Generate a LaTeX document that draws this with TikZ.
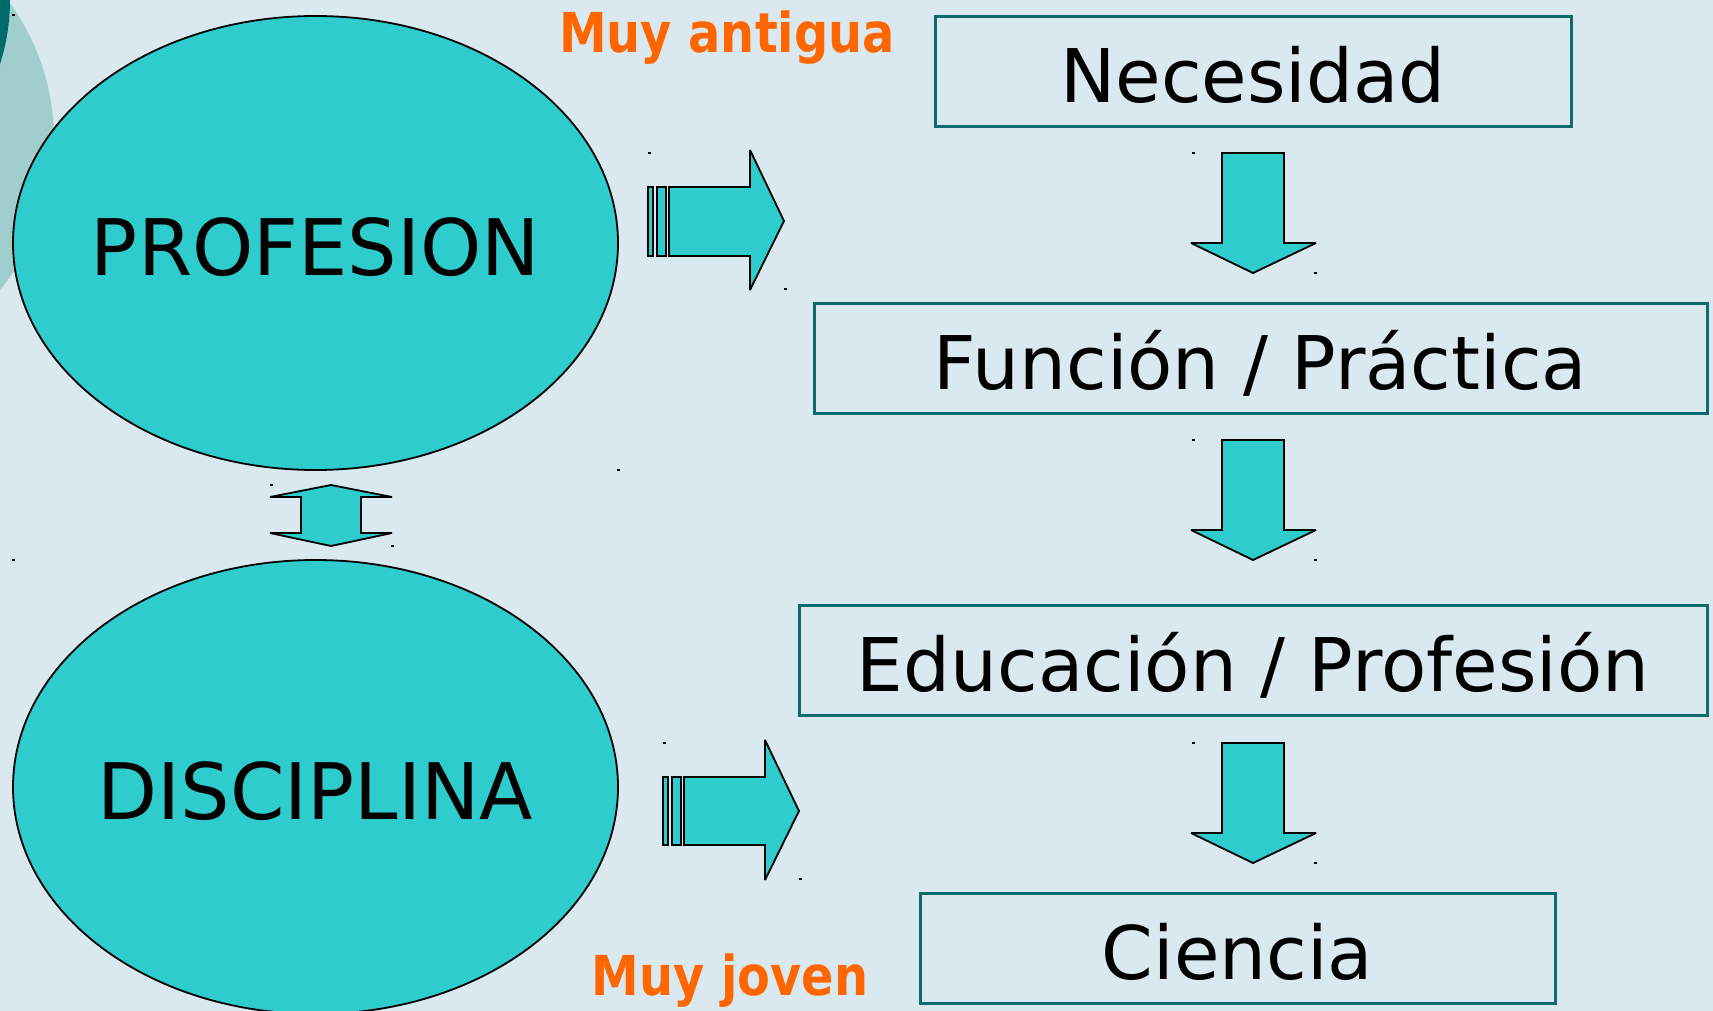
\documentclass[tikz,border=0pt]{standalone}
\usepackage{fontspec}
\setmainfont{DejaVu Sans}
\newfontfamily\orangefont{DejaVu Sans}[FakeStretch=0.87]
\usetikzlibrary{shapes.geometric}
\definecolor{bgc}{RGB}{218,232,240}
\definecolor{tealfill}{RGB}{46,204,204}
\definecolor{boxline}{RGB}{16,108,108}
\definecolor{lightteal}{RGB}{160,206,206}
\definecolor{darkteal}{RGB}{0,107,107}
\definecolor{orangec}{RGB}{255,102,0}
\tikzset{
  bigoval/.style={ellipse, draw=black, line width=1.8pt, fill=tealfill, minimum width=605, minimum height=454, inner sep=0pt, font=\fontsize{78}{80}\selectfont, text height=64pt, text depth=0pt},
  stagebox/.style={rectangle, draw=boxline, line width=3pt, inner sep=0pt, minimum height=110, font=\fontsize{74}{76}\selectfont, text height=62pt, text depth=0pt},
  blockarrow/.style={draw=black, line width=1.8pt, fill=tealfill, line join=miter, miter limit=2},
  tag/.style={text=orangec, font=\orangefont\bfseries\fontsize{55}{57}\selectfont, anchor=base, inner sep=0pt},
  mk/.style={fill=black},
}
\begin{document}
\begin{tikzpicture}[x=1pt,y=-1pt]
\useasboundingbox (0,0) rectangle (1713,1011);
\clip (0,0) rectangle (1713,1011);
\fill[bgc] (0,0) rectangle (1713,1011);
% corner decoration
\fill[lightteal] (-181,140) circle (235);
\fill[darkteal] (-200,0) circle (210);
% ovals
\node[bigoval] (prof) at (315.5,243) {\makebox[0pt]{PROFESION}};
\node[bigoval] (disc) at (315.5,787) {\makebox[0pt]{DISCIPLINA}};
% boxes
\node[stagebox, minimum width=636] (nec) at (1253,71.5) {Necesidad};
\node[stagebox, minimum width=893] (fun) at (1260.5,358.5) {Función / Práctica};
\node[stagebox, minimum width=908] (edu) at (1253,660.5) {Educación / Profesión};
\node[stagebox, minimum width=635] (cie) at (1237.5,948.5) {Ciencia};
% labels
\node[tag] (antigua) at (727,53) {Muy antigua};
\node[tag] (joven) at (730,995) {Muy joven};
% striped right arrows
\draw[blockarrow] (648,187) rectangle (653,256);
\draw[blockarrow] (657,187) rectangle (666,256);
\draw[blockarrow] (669,187) -- (750,187) -- (750,150) -- (784,221) -- (750,290) -- (750,256) -- (669,256) -- cycle;
\draw[blockarrow] (663,777) rectangle (668,845);
\draw[blockarrow] (672,777) rectangle (681,845);
\draw[blockarrow] (684,777) -- (765,777) -- (765,740) -- (799,811) -- (765,880) -- (765,845) -- (684,845) -- cycle;
% down arrows
\foreach \t in {153,440,743}{
  \draw[blockarrow] (1222,\t) -- (1284,\t) -- (1284,\t+90) -- (1316,\t+90) -- (1253,\t+120) -- (1191,\t+90) -- (1222,\t+90) -- cycle;
  \fill[mk] (1192,\t-1) rectangle (1195,\t+1);
  \fill[mk] (1314,\t+119) rectangle (1317,\t+121);
}
% double arrow
\draw[blockarrow] (331,485) -- (392,497) -- (361,497) -- (361,533) -- (392,533) -- (331,546) -- (270,533) -- (301,533) -- (301,497) -- (270,497) -- cycle;
% small markers
\foreach \p in {(13,15),(649,153),(785,289),(271,485),(392,546),(664,743),(800,879),(618,470),(13,560)}{
  \fill[mk] \p ++(-1.5,-1) rectangle ++(3,2);
}
\end{tikzpicture}
\end{document}
